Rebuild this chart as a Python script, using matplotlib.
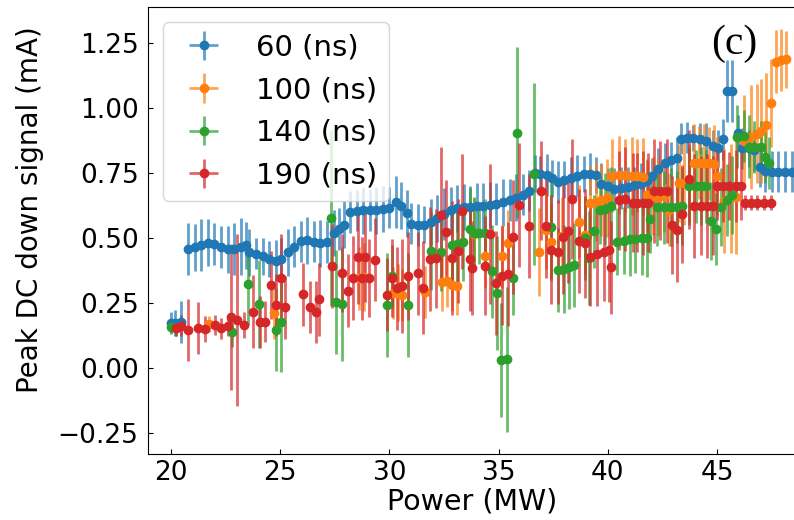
import matplotlib
matplotlib.use('Agg')
import matplotlib.pyplot as plt

plt.rcParams['font.family'] = ['DejaVu Sans']

# 60 ns
blue_x = [20.0, 20.2, 20.45,
          20.8, 21.1, 21.4, 21.7, 22.0, 22.3, 22.6, 22.9, 23.2, 23.45,
          23.6, 23.9, 24.2, 24.5, 24.8, 25.05, 25.35, 25.65, 25.95, 26.25,
          26.55, 26.85, 27.15, 27.45, 27.7, 27.95, 28.2, 28.5, 28.8, 29.1,
          29.4, 29.7, 30.0, 30.3, 30.55, 30.8, 31.0, 31.3, 31.6, 31.9,
          32.2, 32.5, 32.8, 33.1, 33.4, 33.7, 34.0, 34.3, 34.6, 34.9,
          35.2, 35.5, 35.8, 36.1, 36.4, 36.65, 36.9, 37.2, 37.45, 37.7,
          38.0, 38.3, 38.6, 38.9, 39.2, 39.45, 39.7, 40.0, 40.3, 40.6,
          40.9, 41.2, 41.5, 41.8, 42.0, 42.3, 42.6, 42.9, 43.15, 43.35,
          43.6, 43.9, 44.2, 44.5, 44.8, 45.05, 45.25, 45.45, 45.7, 45.95,
          46.15, 46.45, 46.7, 46.95, 47.2, 47.5, 47.8, 48.1, 48.4]
blue_y = [0.175, 0.172, 0.178,
          0.460, 0.465, 0.475, 0.483, 0.478, 0.466, 0.458, 0.458, 0.468, 0.472,
          0.445, 0.440, 0.430, 0.420, 0.414, 0.420, 0.445, 0.468, 0.488, 0.492,
          0.487, 0.480, 0.485, 0.520, 0.535, 0.552, 0.600, 0.606, 0.608, 0.607,
          0.608, 0.612, 0.618, 0.638, 0.625, 0.595, 0.556, 0.550, 0.552, 0.562,
          0.576, 0.593, 0.607, 0.615, 0.620, 0.620, 0.622, 0.624, 0.628, 0.632,
          0.638, 0.646, 0.655, 0.668, 0.683, 0.749, 0.748, 0.743, 0.730, 0.717,
          0.725, 0.732, 0.740, 0.746, 0.746, 0.742, 0.710, 0.700, 0.690, 0.692,
          0.695, 0.703, 0.708, 0.720, 0.738, 0.768, 0.788, 0.800, 0.810, 0.883,
          0.886, 0.886, 0.882, 0.873, 0.855, 0.845, 0.880, 1.065, 1.065, 0.905,
          0.845, 0.845, 0.838, 0.775, 0.758, 0.756, 0.756, 0.756, 0.756]
blue_err = [0.04, 0.05, 0.08,
            0.10, 0.09, 0.10, 0.09, 0.08, 0.08, 0.09, 0.10, 0.11, 0.09,
            0.09, 0.06, 0.07, 0.07, 0.08, 0.08, 0.09, 0.08, 0.08, 0.09,
            0.08, 0.09, 0.08, 0.09, 0.08, 0.09, 0.08, 0.08, 0.09, 0.08,
            0.09, 0.09, 0.08, 0.10, 0.09, 0.09, 0.08, 0.08, 0.07, 0.09,
            0.09, 0.10, 0.09, 0.09, 0.09, 0.08, 0.09, 0.09, 0.09, 0.08,
            0.09, 0.08, 0.09, 0.08, 0.08, 0.07, 0.07, 0.08, 0.07, 0.08,
            0.07, 0.08, 0.08, 0.07, 0.08, 0.07, 0.08, 0.07, 0.08, 0.08,
            0.08, 0.07, 0.08, 0.08, 0.07, 0.08, 0.08, 0.07, 0.08, 0.06,
            0.06, 0.05, 0.06, 0.07, 0.06, 0.07, 0.08, 0.12, 0.12, 0.07,
            0.08, 0.07, 0.08, 0.08, 0.08, 0.08, 0.08, 0.08, 0.08]

# 100 ns
orange_x = [21.77, 24.73, 28.62, 28.85, 30.15, 30.4, 30.6, 31.63, 32.39, 32.62,
            32.85, 33.08, 33.86, 34.36, 35.16, 35.43, 36.83, 37.17, 37.41, 37.9,
            38.66, 38.96, 39.2, 39.45, 39.7, 39.96, 40.18, 40.49, 40.8, 41.1,
            41.35, 41.6, 41.8, 42.05, 42.3, 42.55, 42.8, 43.26, 43.49, 43.72,
            43.94, 44.17, 44.4, 44.63, 44.86, 44.97, 45.32, 45.62, 45.85, 46.23,
            46.53, 46.84, 46.99, 47.22, 47.45, 47.68, 47.9, 48.13]
orange_y = [0.170, 0.212, 0.345, 0.350, 0.290, 0.290, 0.283, 0.292, 0.330, 0.337,
            0.320, 0.316, 0.515, 0.430, 0.430, 0.480, 0.447, 0.532, 0.487, 0.507,
            0.564, 0.513, 0.637, 0.640, 0.647, 0.656, 0.741, 0.742, 0.742, 0.741,
            0.740, 0.737, 0.665, 0.662, 0.660, 0.662, 0.610, 0.712, 0.712, 0.714,
            0.788, 0.790, 0.790, 0.788, 0.786, 0.740, 0.644, 0.653, 0.660, 0.872,
            0.891, 0.902, 0.911, 0.936, 1.021, 1.179, 1.186, 1.188]
orange_err = [0.03, 0.10, 0.12, 0.13, 0.10, 0.11, 0.10, 0.10, 0.11, 0.10,
              0.10, 0.11, 0.14, 0.12, 0.12, 0.13, 0.17, 0.15, 0.15, 0.15,
              0.14, 0.15, 0.14, 0.15, 0.14, 0.15, 0.14, 0.15, 0.14, 0.15,
              0.14, 0.15, 0.14, 0.15, 0.15, 0.14, 0.14, 0.15, 0.16, 0.15,
              0.15, 0.14, 0.15, 0.14, 0.15, 0.15, 0.20, 0.21, 0.22, 0.18,
              0.20, 0.19, 0.20, 0.20, 0.17, 0.12, 0.12, 0.11]

# 140 ns
green_x = [20.0, 20.25, 22.8, 23.53, 24.04, 24.83, 25.06, 27.35, 27.57, 27.83,
           29.91, 30.11, 30.87, 31.89, 32.37, 32.85, 33.08, 33.39, 33.69, 33.86,
           34.12, 34.36, 34.72, 34.92, 35.1, 35.38, 35.64, 35.84, 36.64, 37.41,
           37.72, 37.98, 38.2, 38.43, 38.96, 39.14, 39.38, 39.64, 39.87, 40.15,
           40.41, 40.72, 41.02, 41.25, 41.55, 41.8, 41.93, 42.26, 42.57, 42.87,
           43.18, 43.41, 43.71, 44.01, 44.24, 44.47, 44.73, 44.93, 45.19, 45.43,
           45.69, 45.92, 46.23, 46.46, 46.69, 47.0, 47.17, 47.39]
green_y = [0.160, 0.155, 0.141, 0.325, 0.248, 0.148, 0.176, 0.578, 0.253, 0.248,
           0.244, 0.353, 0.244, 0.451, 0.445, 0.474, 0.476, 0.484, 0.534, 0.519,
           0.519, 0.519, 0.372, 0.289, 0.032, 0.034, 0.346, 0.906, 0.747, 0.542,
           0.378, 0.381, 0.388, 0.397, 0.500, 0.423, 0.526, 0.609, 0.612, 0.622,
           0.487, 0.491, 0.496, 0.496, 0.500, 0.500, 0.573, 0.619, 0.619, 0.619,
           0.620, 0.625, 0.699, 0.700, 0.700, 0.700, 0.565, 0.535, 0.619, 0.647,
           0.666, 0.891, 0.893, 0.852, 0.850, 0.850, 0.812, 0.791]
green_err = [0.03, 0.03, 0.06, 0.16, 0.17, 0.16, 0.19, 0.34, 0.20, 0.22,
             0.20, 0.12, 0.20, 0.15, 0.15, 0.14, 0.15, 0.15, 0.16, 0.14,
             0.12, 0.13, 0.18, 0.22, 0.22, 0.28, 0.14, 0.33, 0.35, 0.20,
             0.16, 0.17, 0.16, 0.16, 0.16, 0.18, 0.14, 0.13, 0.14, 0.15,
             0.13, 0.13, 0.14, 0.13, 0.14, 0.15, 0.13, 0.15, 0.14, 0.15,
             0.14, 0.15, 0.15, 0.14, 0.15, 0.14, 0.15, 0.14, 0.15, 0.14,
             0.15, 0.12, 0.10, 0.12, 0.10, 0.10, 0.10, 0.10]

# 190 ns
red_x = [20.26, 20.49, 20.79, 21.25, 21.55, 22.01, 22.32, 22.62, 22.74, 23.05,
         23.35, 23.76, 24.07, 24.33, 24.57, 24.83, 25.06, 25.24, 26.05, 26.36,
         26.63, 26.78, 27.36, 27.82, 28.13, 28.36, 28.59, 28.75, 28.89, 29.05,
         29.35, 29.88, 30.11, 30.34, 30.57, 30.87, 31.33, 31.56, 31.86, 32.14,
         32.37, 32.58, 32.85, 33.16, 33.31, 33.69, 33.80, 34.39, 34.62, 34.88,
         35.16, 35.43, 35.64, 35.92, 36.41, 36.94, 37.17, 37.41, 37.72, 37.93,
         38.17, 38.35, 38.66, 38.96, 39.19, 39.5, 39.8, 40.03, 40.15, 40.49,
         40.79, 41.13, 41.35, 41.6, 41.85, 42.1, 42.4, 42.7, 42.95, 43.18,
         43.41, 43.71, 43.94, 44.24, 44.55, 44.8, 45.0, 45.25, 45.54, 45.85,
         46.08, 46.25, 46.54, 46.84, 47.15, 47.45]
red_y = [0.154, 0.163, 0.147, 0.156, 0.149, 0.166, 0.154, 0.163, 0.197, 0.186,
         0.166, 0.217, 0.179, 0.179, 0.320, 0.244, 0.345, 0.234, 0.284, 0.235,
         0.217, 0.265, 0.393, 0.367, 0.298, 0.347, 0.428, 0.346, 0.426, 0.346,
         0.417, 0.282, 0.346, 0.308, 0.316, 0.355, 0.365, 0.310, 0.419, 0.423,
         0.590, 0.523, 0.423, 0.451, 0.603, 0.419, 0.385, 0.394, 0.517, 0.329,
         0.355, 0.361, 0.504, 0.628, 0.545, 0.682, 0.545, 0.455, 0.445, 0.504,
         0.526, 0.650, 0.491, 0.481, 0.429, 0.439, 0.448, 0.455, 0.388, 0.645,
         0.650, 0.637, 0.637, 0.637, 0.637, 0.683, 0.683, 0.683, 0.551, 0.532,
         0.593, 0.726, 0.625, 0.625, 0.625, 0.625, 0.701, 0.701, 0.701, 0.701,
         0.701, 0.637, 0.637, 0.637, 0.637, 0.637]
red_err = [0.03, 0.04, 0.12, 0.10, 0.05, 0.04, 0.04, 0.04, 0.28, 0.33,
           0.05, 0.14, 0.10, 0.08, 0.13, 0.12, 0.17, 0.12, 0.12, 0.10,
           0.12, 0.14, 0.16, 0.15, 0.14, 0.16, 0.18, 0.16, 0.17, 0.15,
           0.16, 0.14, 0.15, 0.16, 0.18, 0.17, 0.16, 0.18, 0.20, 0.19,
           0.26, 0.20, 0.22, 0.20, 0.22, 0.20, 0.18, 0.19, 0.27, 0.20,
           0.19, 0.20, 0.22, 0.24, 0.20, 0.19, 0.20, 0.21, 0.20, 0.22,
           0.20, 0.23, 0.20, 0.21, 0.19, 0.20, 0.19, 0.20, 0.18, 0.19,
           0.20, 0.19, 0.19, 0.20, 0.19, 0.20, 0.19, 0.20, 0.19, 0.20,
           0.19, 0.19, 0.20, 0.19, 0.20, 0.19, 0.13, 0.14, 0.13, 0.14,
           0.13, 0.03, 0.03, 0.03, 0.03, 0.03]

power_err = 0.03  # MW, tiny horizontal error

labels = ['60 (ns)', '100 (ns)', '140 (ns)', '190 (ns)']
yticks = [-0.25, 0.0, 0.25, 0.5, 0.75, 1.0, 1.25]
xticks = [20, 25, 30, 35, 40, 45]

fig = plt.figure(figsize=(7.94, 5.2), dpi=100)
ax = fig.add_axes([148.3 / 794, 1 - 454 / 520, (795 - 148.3) / 794, (454 - 7.3) / 520])

series = [(blue_x, blue_y, blue_err, 'C0'),
          (orange_x, orange_y, orange_err, 'C1'),
          (green_x, green_y, green_err, 'C2'),
          (red_x, red_y, red_err, 'C3')]
for (x, y, e, c), lab in zip(series, labels):
    eb = ax.errorbar(x, y, yerr=e, xerr=power_err, fmt='o', ms=6, color=c,
                     elinewidth=2, label=lab)
    for bars in eb[2]:
        bars.set_alpha(0.7)

ax.set_xlim(18.975, 48.56)
ax.set_ylim(-0.33, 1.388)
ax.set_xticks(xticks)
ax.set_yticks(yticks)
ax.tick_params(direction='in', labelsize=19)
ax.tick_params(axis='y', pad=7)
ax.tick_params(axis='x', pad=4)

ax.set_xlabel('Power (MW)', fontsize=20.5)
ax.set_ylabel('Peak DC down signal (mA)', fontsize=20)
ax.xaxis.set_label_coords(0.5, -0.074)
ax.yaxis.set_label_coords(-0.162, 0.546)

ax.legend(loc='upper left', fontsize=21)
ax.text(0.906, 0.919, '(c)', transform=ax.transAxes, fontsize=30,
        family='Liberation Serif', ha='center', va='center')

fig.savefig('out.png', dpi=100)
